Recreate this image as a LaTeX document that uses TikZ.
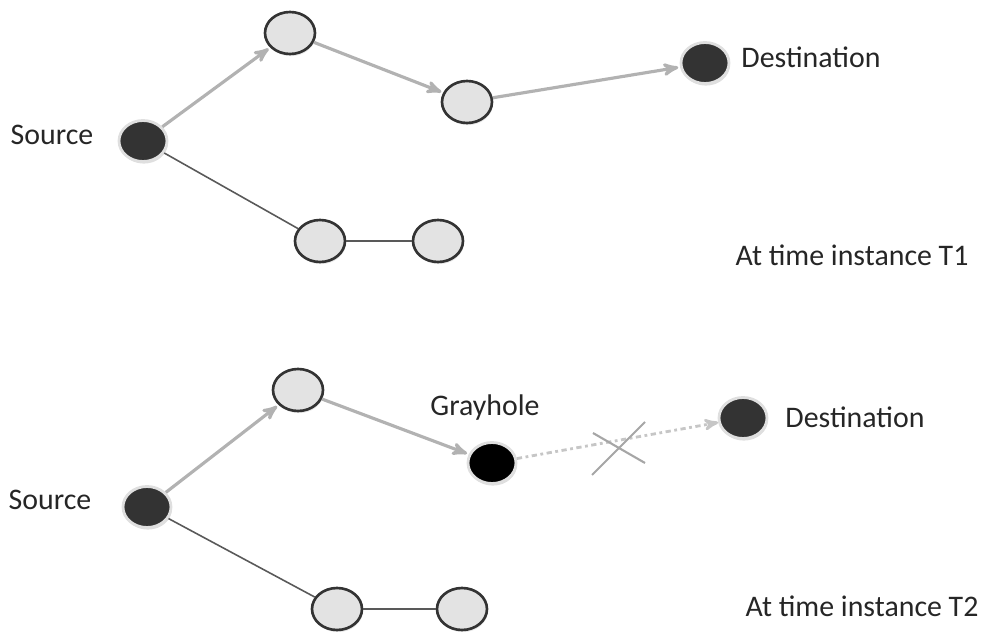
\documentclass[tikz,border=0pt]{standalone}
\usepackage{fontspec}
\setmainfont{Carlito}
\usetikzlibrary{arrows,shapes.geometric,shadows}
\begin{document}
\begin{tikzpicture}[x=0.02cm,y=-0.02cm]
    \tikzset{darknode/.style = {shape=ellipse,fill=black!80,draw=gray!25,line width=1.6pt,minimum width=0.96cm,minimum height=0.82cm,inner sep=0pt,drop shadow={opacity=0.25,shadow xshift=0.5pt,shadow yshift=-1.2pt}}}
    \tikzset{lightnode/.style = {shape=ellipse,fill=gray!22,draw=black!80,line width=1.5pt,minimum width=1cm,minimum height=0.84cm,inner sep=0pt,drop shadow={opacity=0.2,shadow xshift=0.5pt,shadow yshift=-1.2pt}}}
    \tikzset{holenode/.style = {darknode,fill=black}}
    \tikzset{edge/.style = {->,> = stealth',draw=gray!60,line width=1.8pt,shorten >=1pt}}
    \tikzset{link/.style = {draw=black!65,line width=0.9pt}}
    \tikzset{label/.style = {font=\fontsize{17}{20}\selectfont,text=black!85,inner sep=0pt}}
    \useasboundingbox (0,0) rectangle (995,632);
    % at time T1
    \node[darknode] (s1) at (143,141) {};
    \node[lightnode] (a1) at (290,33) {};
    \node[lightnode] (b1) at (467,102) {};
    \node[darknode] (d1) at (705,63) {};
    \node[lightnode] (c1) at (320,241) {};
    \node[lightnode] (e1) at (438,241) {};
    \node[label] (src1) at (52,135) {Source};
    \node[label] (dst1) at (811,57) {Destination};
    \node[label] (t1) at (852,255) {At time instance T1};
    \draw[edge] (s1) to (a1);
    \draw[edge] (a1) to (b1);
    \draw[edge] (b1) to (d1);
    \draw[link] (s1) to (c1);
    \draw[link,line width=1.6pt] (c1) to (e1);
    % at time T2
    \node[darknode] (s2) at (147,507) {};
    \node[lightnode] (a2) at (298,390) {};
    \node[holenode] (g2) at (492,463) {};
    \node[darknode] (d2) at (743,418) {};
    \node[lightnode] (c2) at (337,609) {};
    \node[lightnode] (e2) at (462,609) {};
    \node[label] (src2) at (50,500) {Source};
    \node[label] (gh) at (485,408) {Grayhole};
    \node[label] (dst2) at (855,417) {Destination};
    \node[label] (t2) at (862,606) {At time instance T2};
    \draw[edge] (s2) to (a2);
    \draw[edge] (a2) to (g2);
    \draw[link] (s2) to (c2);
    \draw[link,line width=1.6pt] (c2) to (e2);
    \draw[->,> = stealth',draw=gray!45,line width=1.6pt,dash dot] (g2) to (d2);
    % the cross
    \coordinate (x1) at (592,475);
    \coordinate (x2) at (645,422);
    \coordinate (x3) at (593,433);
    \coordinate (x4) at (645,463);
    \draw[gray!70,line width=1.2pt] (x1) -- (x2);
    \draw[gray!70,line width=1.2pt] (x3) -- (x4);
\end{tikzpicture}
\end{document}
